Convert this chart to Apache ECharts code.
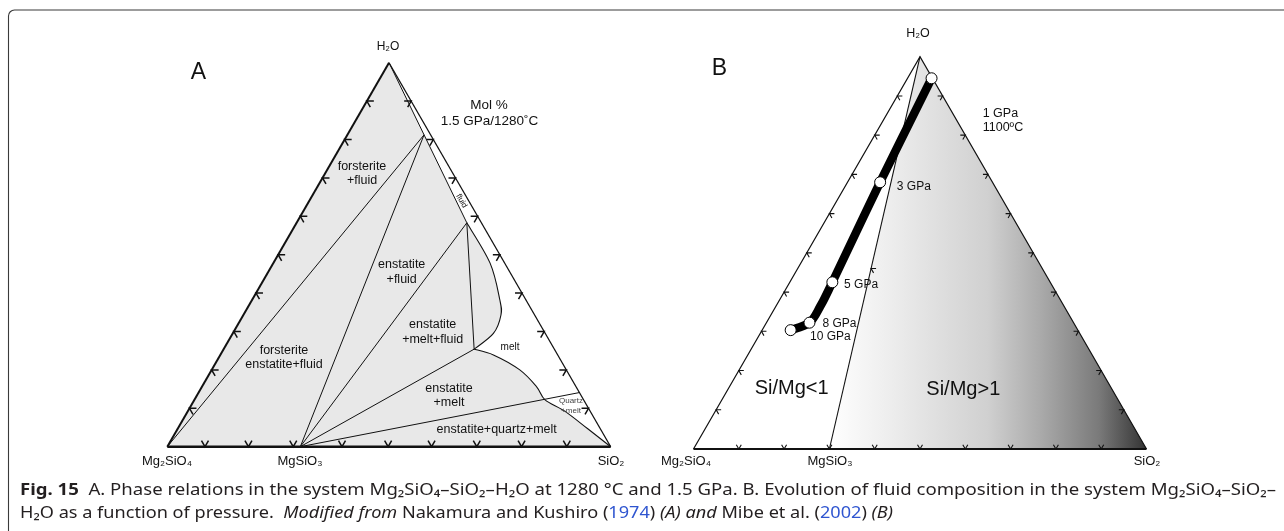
<!DOCTYPE html>
<html>
<head>
<meta charset="utf-8">
<title>Mg2SiO4–SiO2–H2O ternary diagrams</title>
<script src="https://cdn.jsdelivr.net/npm/echarts@6.0.0/dist/echarts.min.js"></script>
<style>
html, body { margin: 0; padding: 0; background: #ffffff; }
#chart { width: 1284px; height: 531px; }
</style>
</head>
<body>
<div id="chart"></div>
<script>
// ---- compositions in mol %, written as [SiO2, H2O]; Mg2SiO4 is the remainder ----
const corners = [[0, 0], [100, 0], [0, 100]];          // Mg2SiO4, SiO2, H2O
const tickSteps = [10, 20, 30, 40, 50, 60, 70, 80, 90];

// Panel A: phase relations at 1.5 GPa / 1280 °C
const aBaseTicks = [8.5, 18.3, 28.4, 39.4, 49.8, 59.6, 69.8, 79.9, 90.1];
const aFluidJoin = [[0, 100], [38.4, 58.3]];
const aForsteriteTie = [[0, 0], [17.3, 81.2]];
const aEnstatiteTieHigh = [[30, 0], [17.3, 81.2]];
const aEnstatiteTieFluid = [[30, 0], [38.4, 58.3]];
const aEnstatiteTieInvariant = [[30, 0], [56.5, 25.4]];
const aEnstatiteTieQuartz = [[30, 0], [85.9, 14.1]];
const aMeltFluidTie = [[38.4, 58.3], [56.5, 25.4]];
const aMeltFluidSolvus = [[38.4, 58.3], [48.9, 47.8], [55.9, 38.2], [58.1, 34.3], [58.8, 29.5], [56.5, 25.4]];
const aMeltLiquidus = [[56.5, 25.4], [61.6, 23.9], [69.5, 20.0], [75.5, 15.6], [79.1, 12.2], [85.1, 9.2], [92.6, 4.6], [100, 0]];

// Panel B: fluid composition as a function of pressure
const bDivide = [[0, 100], [30, 0]];
const bDivideTick = [[16.2, 46]];
const bPressureLabels = ['1 GPa', '3 GPa', '5 GPa', '8 GPa', '10 GPa'];
const bFluid = [[5.3, 94.5], [7.2, 68.0], [9.4, 42.5], [9.5, 32.2], [6.3, 30.3]];
const bFluidTrend = [[5.3, 94.5], [7.2, 68.0], [9.4, 42.5], [9.8, 36.4], [9.5, 32.2], [6.3, 30.3]];

// ---- helpers ----
const S3 = Math.sqrt(3) / 2;
const toXY = p => [p[0] + p[1] / 2, p[1] * S3];      // ternary -> equilateral cartesian
const INK = '#111111';
const FIELD = '#e8e8e8';
const SANS = "'Liberation Sans', Arial, sans-serif";

const M = p => 'M' + p[0] + ',' + p[1];
const L = p => ' L' + p[0] + ',' + p[1];
// Catmull-Rom spline through pixel points, as cubic Bezier commands (starts at pts[0])
function spline(pts) {
  let d = '';
  for (let i = 0; i < pts.length - 1; i++) {
    const p0 = pts[i - 1] || pts[i], p1 = pts[i], p2 = pts[i + 1], p3 = pts[i + 2] || pts[i + 1];
    const c1 = [p1[0] + (p2[0] - p0[0]) / 6, p1[1] + (p2[1] - p0[1]) / 6];
    const c2 = [p2[0] - (p3[0] - p1[0]) / 6, p2[1] - (p3[1] - p1[1]) / 6];
    d += ' C' + c1[0] + ',' + c1[1] + ' ' + c2[0] + ',' + c2[1] + ' ' + p2[0] + ',' + p2[1];
  }
  return d;
}
const seg = (pts, lw) => ({ type: 'polyline', shape: { points: pts }, style: { stroke: INK, lineWidth: lw, fill: 'none' } });
const curve = (pts, lw) => ({ type: 'path', shape: { pathData: M(pts[0]) + spline(pts) }, style: { stroke: INK, lineWidth: lw, fill: 'none', lineJoin: 'round' } });

const DIRS = {
  base: [[-0.5, -S3], [0.5, -S3]],
  left: [[1, 0], [0.5, S3]],
  right: [[-1, 0], [-0.5, S3]]
};
function tick(v, kind, len, lw) {
  const d = DIRS[kind];
  return seg([[v[0] + d[0][0] * len, v[1] + d[0][1] * len], v, [v[0] + d[1][0] * len, v[1] + d[1][1] * len]], lw);
}
function edgeTicks(c, baseList, len, lw) {
  const out = [];
  baseList.forEach(s => out.push(tick(c([s, 0]), 'base', len, lw)));
  tickSteps.forEach(w => out.push(tick(c([0, w]), 'left', len, lw)));
  tickSteps.forEach(w => out.push(tick(c([100 - w, w]), 'right', len, lw)));
  return out;
}

function drawPanelA(params, api) {
  const c = p => api.coord(toXY(p));
  const kids = [];
  kids.push({ type: 'polygon', shape: { points: corners.map(c) }, style: { fill: FIELD, stroke: 'none' } });
  const whiteField = M(c(corners[2])) + L(c(aFluidJoin[1])) + spline(aMeltFluidSolvus.map(c)) + spline(aMeltLiquidus.map(c)) + ' Z';
  kids.push({ type: 'path', shape: { pathData: whiteField }, style: { fill: '#ffffff', stroke: 'none' } });
  [aFluidJoin, aForsteriteTie, aEnstatiteTieHigh, aEnstatiteTieFluid, aEnstatiteTieInvariant, aEnstatiteTieQuartz, aMeltFluidTie]
    .forEach(s => kids.push(seg(s.map(c), 1)));
  kids.push(curve(aMeltFluidSolvus.map(c), 1.1));
  kids.push(curve(aMeltLiquidus.map(c), 1.1));
  kids.push(seg([c(corners[2]), c(corners[1])], 1.3));
  kids.push(seg([c(corners[0]), c(corners[2])], 2));
  kids.push(seg([c(corners[0]), c(corners[1])], 2.6));
  edgeTicks(c, aBaseTicks, 7, 1.5).forEach(k => kids.push(k));
  return { type: 'group', children: kids };
}

function drawPanelB(params, api) {
  const c = p => api.coord(toXY(p));
  const kids = [];
  const shade = new echarts.graphic.LinearGradient(0, 0, 1, 0, [
    { offset: 0, color: '#ffffff' },
    { offset: 0.3, color: '#e3e3e3' },
    { offset: 0.5, color: '#d0d0d0' },
    { offset: 0.67, color: '#a9a9a9' },
    { offset: 0.85, color: '#7a7a7a' },
    { offset: 1, color: '#333333' }
  ]);
  kids.push({ type: 'polygon', shape: { points: [c(corners[2]), c(bDivide[1]), c(corners[1])] }, style: { fill: shade, stroke: 'none' } });
  kids.push(seg(bDivide.map(c), 1.1));
  kids.push(seg([c(corners[0]), c(corners[2]), c(corners[1])], 1.2));
  kids.push(seg([c(corners[0]), c(corners[1])], 1.9));
  edgeTicks(c, tickSteps, 5, 1.1).forEach(k => kids.push(k));
  bDivideTick.forEach(p => kids.push(tick(c(p), 'left', 5, 1.1)));
  const trend = bFluidTrend.map(c);
  kids.push({ type: 'path', shape: { pathData: M(trend[0]) + spline(trend) },
    style: { stroke: '#000000', lineWidth: 8.5, fill: 'none', lineJoin: 'round', lineCap: 'round' } });
  return { type: 'group', children: kids };
}

// ---- text ----
function txt(x, y, text, size, opt) {
  opt = opt || {};
  return {
    type: 'text', x: x, y: y, z: 100, silent: true, rotation: opt.rotation || 0,
    style: { text: text, fontSize: size, fontFamily: opt.family || SANS, fontWeight: opt.weight || 'normal',
      fill: opt.fill || INK, align: opt.align || 'center', verticalAlign: 'middle' }
  };
}
const labels = [
  // panel A
  txt(198.5, 73, 'A', 23),
  txt(388, 47, 'H₂O', 12),
  txt(489, 105, 'Mol %', 13.5),
  txt(489.5, 121.7, '1.5 GPa/1280˚C', 13.5),
  txt(362, 166.7, 'forsterite', 12.5), txt(362, 180.7, '+fluid', 12.5),
  txt(401.7, 265, 'enstatite', 12.5), txt(401.7, 280, '+fluid', 12.5),
  txt(432.7, 325, 'enstatite', 12.5), txt(432.7, 340, '+melt+fluid', 12.5),
  txt(284, 351, 'forsterite', 12.5), txt(284, 365, 'enstatite+fluid', 12.5),
  txt(449, 388.3, 'enstatite', 12.5), txt(449, 402.3, '+melt', 12.5),
  txt(496.7, 430, 'enstatite+quartz+melt', 12.5),
  txt(510, 347.7, 'melt', 10),
  txt(571, 401, 'Quartz', 8, { fill: '#444444' }), txt(571, 410.7, '+melt', 8, { fill: '#444444' }),
  txt(461.5, 201, 'fluid', 8, { rotation: -Math.PI / 3 }),
  txt(167, 461, 'Mg₂SiO₄', 13), txt(300, 461, 'MgSiO₃', 13), txt(611, 461, 'SiO₂', 13),
  // panel B
  txt(719.5, 69, 'B', 23),
  txt(918, 33.5, 'H₂O', 12.5),
  txt(982.7, 114, '1 GPa', 12.5, { align: 'left' }),
  txt(982.7, 127.3, '1100ºC', 12.5, { align: 'left' }),
  txt(791.7, 388.3, 'Si/Mg<1', 20),
  txt(963.3, 389.3, 'Si/Mg>1', 20),
  txt(686, 461, 'Mg₂SiO₄', 13), txt(830, 461, 'MgSiO₃', 13), txt(1147, 461, 'SiO₂', 13)
];

// caption
const CAP_FAMILY = "'Noto Sans', 'Liberation Sans', sans-serif";
const CAP_SIZE = 16.5;
const CAP_INK = '#231f20';
const capRich = {
  b: { fontSize: CAP_SIZE, fontFamily: CAP_FAMILY, fontWeight: 'bold', fill: CAP_INK },
  i: { fontSize: CAP_SIZE, fontFamily: CAP_FAMILY, fontStyle: 'italic', fill: CAP_INK },
  u: { fontSize: CAP_SIZE, fontFamily: CAP_FAMILY, fill: '#2f55d0' }
};
const capLine1 = '{b|Fig. 15}  A. Phase relations in the system Mg₂SiO₄–SiO₂–H₂O at 1280 °C and 1.5 GPa. B. Evolution of fluid composition in the system Mg₂SiO₄–SiO₂–';
const capLine2 = 'H₂O as a function of pressure.  {i|Modified from} Nakamura and Kushiro ({u|1974}) {i|(A) and} Mibe et al. ({u|2002}) {i|(B)}';

const measureCtx = document.createElement('canvas').getContext('2d');
const fontOf = s => [s.fontStyle || 'normal', s.fontWeight || 'normal', s.fontSize + 'px', s.fontFamily].join(' ');
function richWidth(str) {
  const base = fontOf({ fontSize: CAP_SIZE, fontFamily: CAP_FAMILY });
  const re = /\{(\w+)\|([^}]*)\}/g;
  let w = 0, last = 0, m;
  while ((m = re.exec(str))) {
    measureCtx.font = base; w += measureCtx.measureText(str.slice(last, m.index)).width;
    measureCtx.font = fontOf(capRich[m[1]]); w += measureCtx.measureText(m[2]).width;
    last = re.lastIndex;
  }
  measureCtx.font = base; w += measureCtx.measureText(str.slice(last)).width;
  return w;
}
function capText(y, str, targetWidth) {
  return {
    type: 'text', x: 20, y: y, z: 100, silent: true, scaleX: targetWidth / richWidth(str), originX: 0, originY: 0,
    style: { text: str, rich: capRich, fontSize: CAP_SIZE, fontFamily: CAP_FAMILY, fill: CAP_INK, align: 'left', verticalAlign: 'middle' }
  };
}

const chart = echarts.init(document.getElementById('chart'), null, { renderer: 'canvas', width: 1284, height: 531 });
const hiddenAxis = (i, max) => ({ gridIndex: i, type: 'value', min: 0, max: max, show: false });

chart.setOption({
  animation: false,
  backgroundColor: '#ffffff',
  grid: [
    { left: 167.3, top: 62.7, width: 443.4, height: 384 },
    { left: 693.5, top: 56.7, width: 453, height: 392.3 }
  ],
  xAxis: [hiddenAxis(0, 100), hiddenAxis(1, 100)],
  yAxis: [hiddenAxis(0, 100 * S3), hiddenAxis(1, 100 * S3)],
  series: [
    { type: 'custom', name: 'A', xAxisIndex: 0, yAxisIndex: 0, data: [[50, 40]], renderItem: drawPanelA, silent: true, clip: false, z: 1 },
    { type: 'custom', name: 'B', xAxisIndex: 1, yAxisIndex: 1, data: [[50, 40]], renderItem: drawPanelB, silent: true, clip: false, z: 1 },
    {
      type: 'scatter', name: 'fluid', xAxisIndex: 1, yAxisIndex: 1, z: 5, silent: true,
      symbol: 'circle', symbolSize: 11,
      itemStyle: { color: '#ffffff', borderColor: '#000000', borderWidth: 1, opacity: 1 },
      data: bFluid.map((p, i) => ({
        value: toXY(p),
        label: { show: i > 0, offset: [[0, 0], [16.7, 4.4], [11.7, 2.7], [13, 0.6], [19.3, 6.7]][i] }
      })),
      label: {
        position: 'inside', align: 'left', verticalAlign: 'middle',
        fontSize: 12, fontFamily: SANS, color: INK, opacity: 1,
        formatter: p => bPressureLabels[p.dataIndex]
      }
    }
  ],
  graphic: [
    { type: 'rect', z: 0, silent: true, shape: { x: 8.5, y: 10, width: 1300, height: 560, r: 6 },
      style: { fill: 'none', stroke: '#3a3a3a', lineWidth: 1.1 } },
    ...labels,
    capText(490, capLine1, 1256),
    capText(513, capLine2, 873)
  ]
});
</script>
</body>
</html>
